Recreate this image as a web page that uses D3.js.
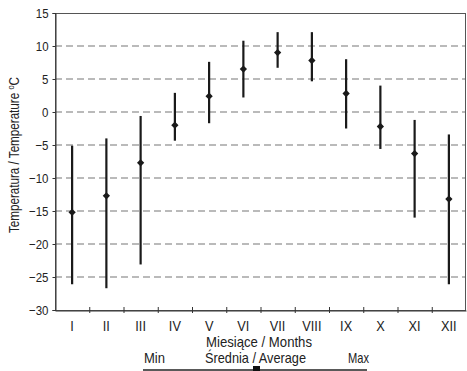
<!DOCTYPE html>
<html><head><meta charset="utf-8">
<script src="https://cdn.jsdelivr.net/npm/d3@7"></script>
<style>body{margin:0;background:#fff}svg{display:block}text{font-family:"Liberation Sans",Arial,sans-serif;fill:#222}</style>
</head><body><div id="c"></div>
<script>
const months = ["I","II","III","IV","V","VI","VII","VIII","IX","X","XI","XII"];
const avgT = [-15.2,-12.7,-7.7,-2.0,2.4,6.5,9.0,7.8,2.8,-2.2,-6.3,-13.2];
const minT = [-26.1,-26.7,-23.1,-4.35,-1.7,2.2,6.7,4.65,-2.5,-5.6,-16.0,-26.1];
const maxT = [-5.1,-4.0,-0.6,2.9,7.6,10.8,12.1,12.1,8.0,4.0,-1.2,-3.4];
const yTicks = [15,10,5,0,-5,-10,-15,-20,-25,-30];

const W=467,H=371, L=55, R=466, T=13, B=310;
const svg=d3.select("#c").append("svg").attr("width",W).attr("height",H);
const x=d3.scaleBand().domain(months).range([L,R]);
const y=d3.scaleLinear().domain([-30,15]).range([B,T]);

// grid
svg.append("g").selectAll("line").data(yTicks.filter(v=>v>-30&&v<15)).join("line")
  .attr("x1",L).attr("x2",R).attr("y1",d=>y(d)).attr("y2",d=>y(d))
  .attr("stroke","#777").attr("stroke-width",1.2).attr("stroke-dasharray","7,4");

// frame
svg.append("rect").attr("x",L+0.5).attr("y",T+0.5).attr("width",R-L-1).attr("height",B-T)
  .attr("fill","none").attr("stroke","#555").attr("stroke-width",1);

// y axis
const ya=svg.append("g").attr("transform",`translate(${L+0.5},0)`)
  .call(d3.axisLeft(y).tickValues(yTicks).tickSize(3).tickPadding(4));
ya.select(".domain").attr("stroke","#333");
ya.selectAll(".tick line").attr("stroke","#333");
ya.selectAll("text").attr("font-size",13.5).attr("fill","#222").attr("x",-7/0.85).attr("transform","scale(0.85,1)");

// x axis
const xa=svg.append("g").attr("transform",`translate(0,${B+0.5})`)
  .call(d3.axisBottom(x).tickSize(0).tickPadding(10));
xa.select(".domain").attr("stroke","#333");
xa.selectAll("text").attr("font-size",14.5).attr("fill","#222").attr("dy","0.71em").attr("transform","scale(0.88,1)");
svg.append("g").selectAll("line").data(months.slice(1)).join("line")
  .attr("x1",d=>x(d)+0.5).attr("x2",d=>x(d)+0.5).attr("y1",B-3).attr("y2",B+3)
  .attr("stroke","#333");

// error bars
const g=svg.append("g");
g.selectAll("line").data(months).join("line")
  .attr("x1",d=>x(d)+x.bandwidth()/2).attr("x2",d=>x(d)+x.bandwidth()/2)
  .attr("y1",(d,i)=>y(minT[i])).attr("y2",(d,i)=>y(maxT[i]))
  .attr("stroke","#1a1a1a").attr("stroke-width",2.2);
g.selectAll("path").data(months).join("path")
  .attr("d",d3.symbol(d3.symbolDiamond2,34))
  .attr("transform",(d,i)=>`translate(${x(d)+x.bandwidth()/2},${y(avgT[i])})`)
  .attr("fill","#1a1a1a");

// titles
svg.append("text").attr("transform",`translate(19,155) rotate(-90)`).attr("text-anchor","middle")
  .attr("font-size",14).attr("textLength",156).attr("lengthAdjust","spacingAndGlyphs")
  .html('Temperatura / Temperature <tspan dy="-5" font-size="9">o</tspan><tspan dy="5">C</tspan>');
const t=(xx,yy,s,len,anchor)=>svg.append("text").attr("x",xx).attr("y",yy).attr("font-size",14.5)
  .attr("text-anchor",anchor||"start").attr("textLength",len).attr("lengthAdjust","spacingAndGlyphs").text(s);
t(206,347,"Miesiące / Months",106);
t(144,363,"Min",21);
t(205,363,"Średnia / Average",101);
t(348,363,"Max",21);
svg.append("line").attr("x1",143).attr("x2",367).attr("y1",370).attr("y2",370).attr("stroke","#222").attr("stroke-width",1.5);
svg.append("rect").attr("x",253).attr("y",366).attr("width",7).attr("height",5).attr("fill","#111");
</script></body></html>
